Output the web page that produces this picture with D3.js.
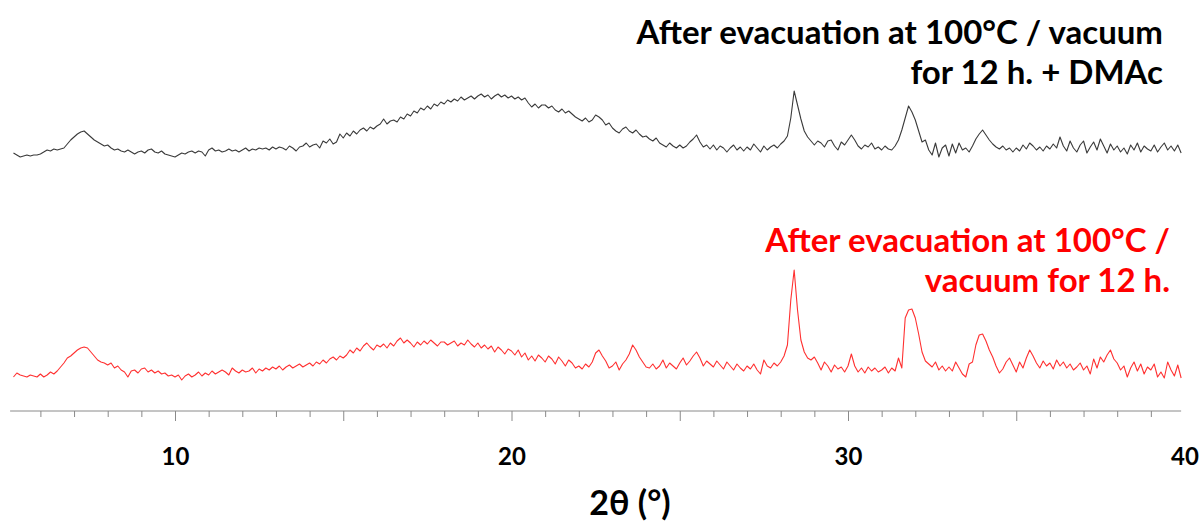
<!DOCTYPE html>
<html>
<head>
<meta charset="utf-8">
<script src="https://cdn.jsdelivr.net/npm/d3@7"></script>
<style>
  body { margin: 0; background: #fff; }
  svg { display: block; }
</style>
</head>
<body>
<script>
// DATA ––––––––––––––––––––––––––––––––––––––––––––––––––––––––––––––––

// scan grid (2theta, degrees)
const startAngle = 5.2,
      stepAngle = 0.1;

// intensities (a.u.), one row per degree
const evacDmac = [
  38,36,34,35,36,35,36,36,                    // 5.2 - 5.9
  37,39,41,40,42,41,42,43,47,51,              // 6
  54,57,59,60,57,54,51,49,47,45,              // 7
  46,43,41,42,40,39,41,39,37,39,              // 8
  40,38,41,42,39,38,40,37,36,35,              // 9
  34,36,38,37,39,40,38,40,39,35,              // 10
  41,43,40,41,39,40,42,40,41,39,              // 11
  41,43,40,42,41,43,42,43,41,44,              // 12
  42,44,43,41,45,43,40,44,45,48,              // 13
  44,46,47,43,50,48,52,47,49,57,              // 14
  53,58,55,60,57,61,63,60,64,62,              // 15
  65,67,72,67,70,71,69,74,72,77,              // 16
  75,80,78,83,81,85,82,87,85,89,              // 17
  87,91,89,92,90,94,91,93,95,92,              // 18
  95,97,94,96,92,95,97,94,96,93,              // 19
  95,92,94,91,93,88,84,87,83,86,              // 20
  86,83,85,81,79,82,78,80,77,74,              // 21
  72,70,73,69,71,76,74,71,66,68,              // 22
  63,60,58,62,64,60,58,61,57,54,              // 23
  55,52,50,53,48,46,44,48,45,43,              // 24
  46,43,45,49,52,56,49,44,46,42,              // 25
  46,41,45,43,39,43,46,41,44,40,              // 26
  44,41,47,43,39,45,41,44,46,43,              // 27
  47,50,55,73,100,86,72,60,54,50,             // 28
  46,50,48,44,50,51,45,41,49,46,              // 29
  51,56,51,45,42,46,44,48,42,44,              // 30
  41,45,42,41,45,51,61,73,85,79,              // 31
  71,60,49,51,41,36,48,34,43,46,              // 32
  35,47,38,48,41,43,39,45,52,57,              // 33
  61,56,51,47,44,42,45,41,43,39,              // 34
  43,40,46,42,48,45,41,44,40,45,              // 35
  42,47,43,54,45,40,50,43,39,46,              // 36
  50,38,44,49,41,52,45,38,47,41,              // 37
  45,39,43,37,46,41,48,39,45,42,              // 38
  40,46,39,44,48,41,45,40,46,38               // 39
];

const evacOnly = [
  34,38,36,35,34,36,35,34,                    // 5.2 - 5.9
  37,34,36,39,37,40,44,48,53,55,              // 6
  58,61,63,64,63,59,55,51,49,48,              // 7
  46,48,43,45,41,39,34,40,41,38,              // 8
  42,43,39,41,38,40,37,38,35,36,              // 9
  34,36,31,35,37,34,36,39,35,38,              // 10
  36,40,37,39,41,39,36,43,40,38,              // 11
  41,39,40,43,38,42,40,43,41,44,              // 12
  42,45,41,44,46,43,45,47,44,46,              // 13
  48,45,49,47,51,48,52,54,51,55,              // 14
  53,56,61,58,63,60,65,68,64,61,              // 15
  66,64,67,63,68,65,70,73,68,71,              // 16
  68,64,69,66,70,67,71,68,65,69,              // 17
  69,66,68,70,65,68,66,71,67,64,              // 18
  68,63,66,62,65,59,64,61,57,62,              // 19
  60,56,61,54,58,51,55,50,56,53,              // 20
  49,55,52,47,54,50,45,51,48,43,              // 21
  45,42,47,44,49,58,61,55,50,43,              // 22
  45,49,41,47,51,57,66,61,54,49,              // 23
  44,43,47,42,45,51,43,48,45,42,              // 24
  48,53,46,50,55,59,53,45,50,47,              // 25
  44,50,46,42,49,45,41,47,43,40,              // 26
  45,42,47,41,37,51,45,43,48,45,              // 27
  49,55,66,111,141,101,71,59,53,51,           // 28
  54,48,41,49,45,39,46,42,44,39,              // 29
  45,57,45,39,43,38,44,40,43,39,              // 30
  41,44,38,43,40,53,43,93,101,102,            // 31
  93,77,59,50,47,44,49,41,45,40,              // 32
  44,40,49,43,37,34,47,49,66,76,              // 33
  77,70,61,54,45,38,42,49,53,46,              // 34
  39,49,43,53,61,55,48,43,50,45,              // 35
  48,42,51,45,49,43,47,41,44,48,              // 36
  41,45,37,52,43,54,49,56,61,52,              // 37
  48,41,45,34,43,49,40,47,37,44,              // 38
  41,47,34,39,33,49,41,35,46,33               // 39
];

// vertical shift of the upper pattern (a.u.)
const stackOffset = 220;

const majorTicks = [10, 20, 30, 40];
const labelDmac = ["After evacuation at 100°C / vacuum", "for 12 h. + DMAc"];
const labelEvac = ["After evacuation at 100°C /", "vacuum for 12 h."];
const axisTitle = "2θ (°)";

// CHART ––––––––––––––––––––––––––––––––––––––––––––––––––––––––––––––––

var drawChart = function() {
  let width = 1203,
      height = 522,
      axisY = 411;

  let svg = d3.select("body").append("svg")
      .attr("width", width)
      .attr("height", height);

  let x = d3.scaleLinear()
      .domain([10, 30])
      .range([175, 848]);

  let y = d3.scaleLinear()
      .domain([0, 400])
      .range([axisY, axisY - 400]);

  let toPoints = function(series, offset) {
    return series.map(function(v, i) {
      return {t: startAngle + i * stepAngle, v: v + offset};
    });
  };

  let line = d3.line()
      .x(function(d) { return x(d.t); })
      .y(function(d) { return y(d.v); });

  svg.append("path")
      .datum(toPoints(evacDmac, stackOffset))
      .attr("fill", "none")
      .attr("stroke", "#3a3a3a")
      .attr("stroke-width", 1.1)
      .attr("stroke-linejoin", "round")
      .attr("d", line);

  svg.append("path")
      .datum(toPoints(evacOnly, 0))
      .attr("fill", "none")
      .attr("stroke", "#ff3030")
      .attr("stroke-width", 1.1)
      .attr("stroke-linejoin", "round")
      .attr("d", line);

  // axis: minor ticks every degree, longer ones every 5
  let axis = svg.append("g")
      .attr("transform", "translate(0," + axisY + ")")
      .call(d3.axisBottom(x).tickValues(d3.range(6, 40)).tickSize(6).tickFormat(""));

  axis.select(".domain")
      .attr("d", "M" + x(5.1) + ",0H" + x(39.9))
      .attr("stroke", "#8a8a8a");
  axis.selectAll(".tick line")
      .attr("stroke", "#8a8a8a")
      .attr("y2", function(d) { return d % 5 === 0 ? 10 : 6; });

  let labels = svg.append("g")
      .attr("transform", "translate(0," + axisY + ")")
      .call(d3.axisBottom(x).tickValues(majorTicks).tickSize(0).tickPadding(37));
  labels.select(".domain").remove();
  labels.selectAll("text")
      .attr("font-family", "Lato, sans-serif")
      .attr("font-weight", 700)
      .attr("font-size", 24)
      .attr("fill", "#000");

  svg.append("text")
      .attr("x", 630)
      .attr("y", 515)
      .attr("text-anchor", "middle")
      .attr("font-family", "Lato, sans-serif")
      .attr("font-weight", 700)
      .attr("font-size", 34)
      .attr("fill", "#000")
      .text(axisTitle);

  let addLabel = function(lines, right, top, color) {
    lines.forEach(function(s, i) {
      svg.append("text")
        .attr("x", right)
        .attr("y", top + i * 40)
        .attr("text-anchor", "end")
        .attr("font-family", "Lato, sans-serif")
        .attr("font-weight", 700)
        .attr("font-size", 33)
        .attr("fill", color)
        .text(s);
    });
  };

  addLabel(labelDmac, 1163, 44, "#000");
  addLabel(labelEvac, 1170, 252, "#ff0000");
};

drawChart();
</script>
</body>
</html>
